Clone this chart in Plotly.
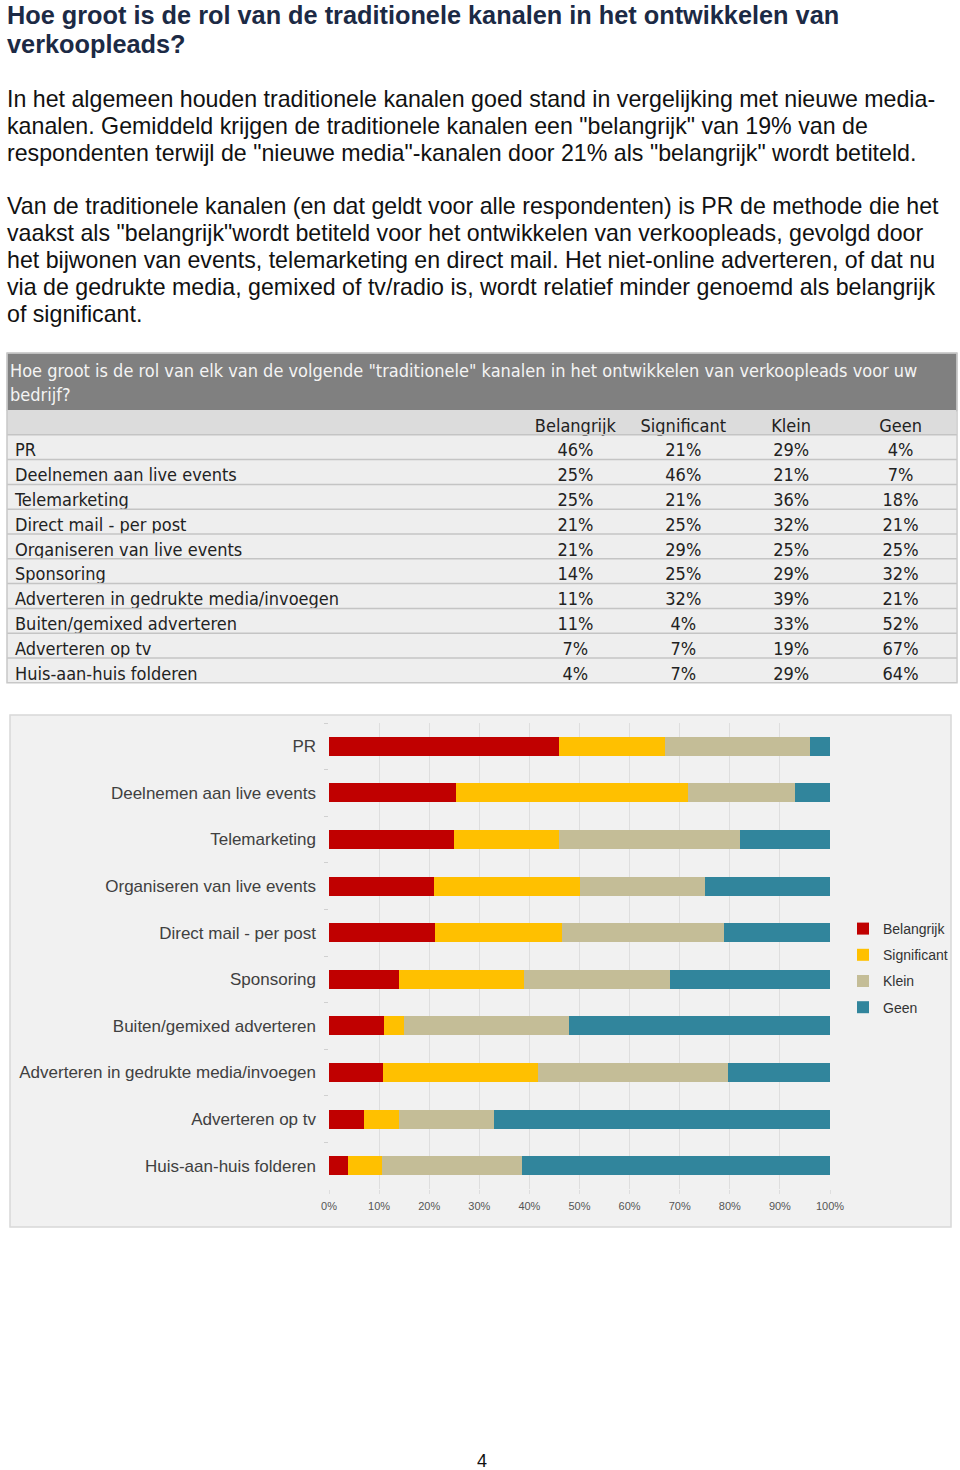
import plotly.graph_objects as go

W, H = 960, 1470

def px(x):
    return x / W

def py(y):
    return 1 - y / H

# ---------------- data ----------------
rows = ["PR", "Deelnemen aan live events", "Telemarketing", "Direct mail - per post",
        "Organiseren van live events", "Sponsoring", "Adverteren in gedrukte media/invoegen",
        "Buiten/gemixed adverteren", "Adverteren op tv", "Huis-aan-huis folderen"]
belangrijk = [46, 25, 25, 21, 21, 14, 11, 11, 7, 4]
significant = [21, 46, 21, 25, 29, 25, 32, 4, 7, 7]
klein = [29, 21, 36, 32, 25, 29, 39, 33, 19, 29]
geen = [4, 7, 18, 21, 25, 32, 21, 52, 67, 64]
columns = ["Belangrijk", "Significant", "Klein", "Geen"]

chart_order = ["PR", "Deelnemen aan live events", "Telemarketing", "Organiseren van live events",
               "Direct mail - per post", "Sponsoring", "Buiten/gemixed adverteren",
               "Adverteren in gedrukte media/invoegen", "Adverteren op tv", "Huis-aan-huis folderen"]
x_ticks = [0, 10, 20, 30, 40, 50, 60, 70, 80, 90, 100]
x_ticktext = [f"{t}%" for t in x_ticks]

colors = ["#c00000", "#ffc000", "#c4bd97", "#31859c"]

title_lines = ["Hoe groot is de rol van de traditionele kanalen in het ontwikkelen van",
               "verkoopleads?"]
para1 = ["In het algemeen houden traditionele kanalen goed stand in vergelijking met nieuwe media-",
         "kanalen. Gemiddeld krijgen de traditionele kanalen een \"belangrijk\" van 19% van de",
         "respondenten terwijl de \"nieuwe media\"-kanalen door 21% als \"belangrijk\" wordt betiteld."]
para2 = ["Van de traditionele kanalen (en dat geldt voor alle respondenten) is PR de methode die het",
         "vaakst als \"belangrijk\"wordt betiteld voor het ontwikkelen van verkoopleads, gevolgd door",
         "het bijwonen van events, telemarketing en direct mail. Het niet-online adverteren, of dat nu",
         "via de gedrukte media, gemixed of tv/radio is, wordt relatief minder genoemd als belangrijk",
         "of significant."]
table_title = ["Hoe groot is de rol van elk van de volgende \"traditionele\" kanalen in het ontwikkelen van verkoopleads voor uw",
               "bedrijf?"]

fig = go.Figure()

# ---------------- table ----------------
TFONT = "DejaVu Sans Condensed, DejaVu Sans, sans-serif"
t_top, row_h = 410, 24.8
n_rows = len(rows) + 1
fig.add_trace(go.Table(
    domain=dict(x=[px(7), px(957)], y=[py(t_top + n_rows * row_h), py(t_top)]),
    columnwidth=[515, 108, 108, 108, 111],
    header=dict(values=[""] + columns, height=row_h,
                fill_color="#dcdcdc", line=dict(color="#dcdcdc", width=1),
                align=["left", "center", "center", "center", "center"],
                font=dict(family=TFONT, size=18, color="#222222")),
    cells=dict(values=[rows,
                       [f"{v}%" for v in belangrijk],
                       [f"{v}%" for v in significant],
                       [f"{v}%" for v in klein],
                       [f"{v}%" for v in geen]],
               height=row_h,
               fill_color="#eeeeee", line=dict(color="#eeeeee", width=1),
               align=["left", "center", "center", "center", "center"],
               font=dict(family=TFONT, size=18, color="#222222")),
))

shapes = []
# table title bar
shapes.append(dict(type="rect", xref="paper", yref="paper", x0=px(7), x1=px(957),
                   y0=py(411), y1=py(353), fillcolor="#808080", line=dict(color="#c8c8c8", width=1),
                   layer="below"))
# row separators
for k in range(1, n_rows):
    yy = t_top + k * row_h
    shapes.append(dict(type="line", xref="paper", yref="paper", x0=px(7), x1=px(957),
                       y0=py(yy), y1=py(yy), line=dict(color="#c4c4c4", width=1.5), layer="above"))
# table outer border
shapes.append(dict(type="rect", xref="paper", yref="paper", x0=px(7), x1=px(957),
                   y0=py(t_top + n_rows * row_h), y1=py(353), fillcolor="rgba(0,0,0,0)",
                   line=dict(color="#c8c8c8", width=1.5), layer="above"))
# chart box
shapes.append(dict(type="rect", xref="paper", yref="paper", x0=px(10), x1=px(951),
                   y0=py(1227), y1=py(715), fillcolor="#f1f1f1", line=dict(color="#d8d8d8", width=1.5),
                   layer="below"))

# ---------------- bar chart ----------------
idx = [rows.index(r) for r in chart_order]
series = [belangrijk, significant, klein, geen]
for name, vals, col in zip(columns, series, colors):
    fig.add_trace(go.Bar(
        y=chart_order, x=[vals[i] for i in idx], name=name, orientation="h",
        marker=dict(color=col, line=dict(width=0)), legendgroup=name,
    ))

fig.update_layout(
    width=W, height=H, autosize=False,
    margin=dict(l=0, r=0, t=0, b=0, pad=0, autoexpand=False),
    paper_bgcolor="white", plot_bgcolor="white",
    barmode="stack", barnorm="percent", bargap=0.59,
    showlegend=True,
    legend=dict(x=px(843), y=py(913), xanchor="left", yanchor="top",
                bgcolor="rgba(0,0,0,0)", tracegroupgap=5, itemwidth=30,
                font=dict(family="Liberation Sans, Arial, sans-serif", size=14, color="#333333")),
    xaxis=dict(domain=[px(329), px(830)], range=[0, 100], tickvals=x_ticks, ticktext=x_ticktext,
               showgrid=True, gridcolor="#dedede", gridwidth=1, automargin=False,
               ticks="outside", ticklen=4, tickcolor="#dedede", zeroline=False,
               showline=False, fixedrange=True, ticklabelstandoff=3,
               tickfont=dict(family="Liberation Sans, Arial, sans-serif", size=11, color="#555555")),
    yaxis=dict(domain=[py(1189), py(723)], autorange="reversed", showgrid=False, automargin=False,
               tickson="boundaries", ticks="outside", ticklen=4, tickcolor="#d0d0d0",
               showline=False, ticklabelstandoff=12,
               tickfont=dict(family="Liberation Sans, Arial, sans-serif", size=17, color="#404040")),
    shapes=shapes,
)

# ---------------- text ----------------
ann = []
BODY = "Liberation Sans, Arial, Helvetica, sans-serif"
for line, y in zip(title_lines, [15, 44]):
    ann.append(dict(text=f"<b>{line}</b>", x=px(5), y=py(y), font=dict(family=BODY, size=25.3, color="#1c2a45")))
for line, y in zip(para1, [99, 126, 153]):
    ann.append(dict(text=line, x=px(5), y=py(y), font=dict(family=BODY, size=23.2, color="#111111")))
for line, y in zip(para2, [206, 233, 260, 287, 314]):
    ann.append(dict(text=line, x=px(5), y=py(y), font=dict(family=BODY, size=23.2, color="#111111")))
for line, y in zip(table_title, [370, 395]):
    ann.append(dict(text=line, x=px(8), y=py(y), font=dict(family=TFONT, size=18, color="#f4f4f4")))
for a in ann:
    a.update(xref="paper", yref="paper", xanchor="left", yanchor="middle", showarrow=False)
ann.append(dict(text="4", x=px(482), y=py(1470), xref="paper", yref="paper", xanchor="center",
                yanchor="bottom", height=16, valign="middle", borderpad=0, showarrow=False,
                font=dict(family=BODY, size=18, color="#111111")))
fig.update_layout(annotations=ann)

fig.write_html("out.html", config={"displayModeBar": False, "responsive": False},
               post_script="document.body.style.margin='0';document.body.style.overflow='hidden';")
